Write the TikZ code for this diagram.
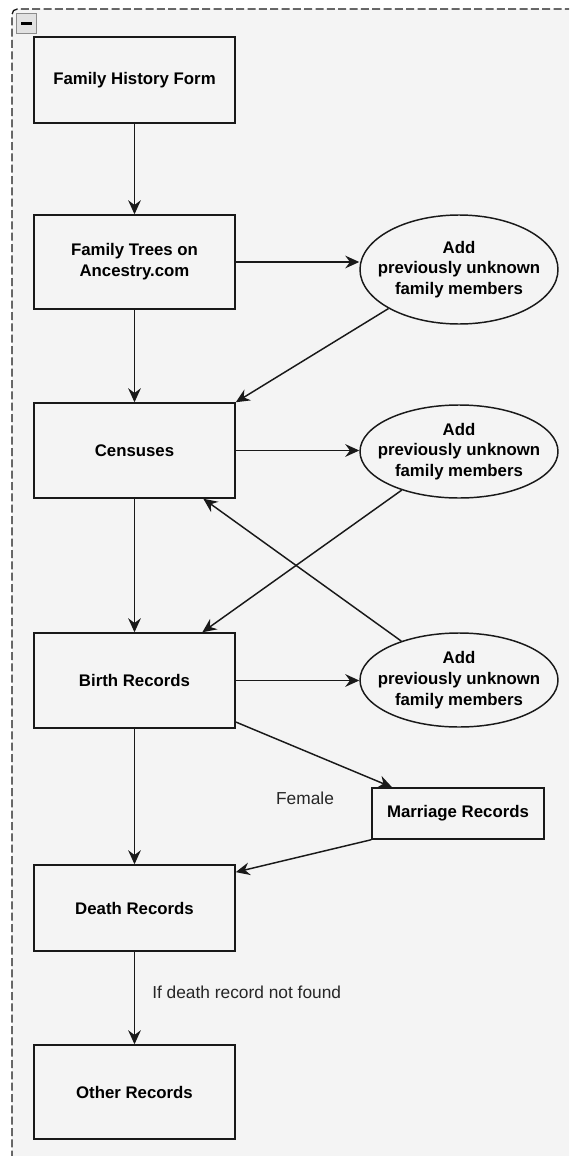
\documentclass[tikz,border=0pt]{standalone}
\usepackage{fontspec}
\setmainfont{Liberation Sans}
\usepackage{xcolor}
\usetikzlibrary{calc, shapes.geometric, arrows.meta}
\definecolor{panel}{HTML}{F4F4F4}
\definecolor{btn}{HTML}{E2E2E2}
\tikzset{every node/.append style={font=\fontsize{13}{15.5}\selectfont}}

\begin{document}
\begin{tikzpicture}[>={Stealth[length=10.5pt, width=9.5pt, inset=3.5pt]}, x=0.75pt, y=-0.75pt,
    box/.style={draw=black!90, line width=1.1pt, minimum width=150.75pt, align=center, font=\fontsize{12.6}{15.6}\selectfont\bfseries, inner sep=0pt},
    oval/.style={ellipse, draw=black!90, line width=1.1pt, minimum width=148.5pt, minimum height=70.5pt, inner xsep=-10pt, inner ysep=0pt, align=center, font=\fontsize{12.6}{15.6}\selectfont\bfseries},
    lab/.style={font=\fontsize{13}{15.5}\selectfont, text=black!85, inner sep=0pt},
    flow/.style={->, line width=1.1pt, draw=black!90}]
    \clip (0,0) rectangle (569,1156);
    % container
    \path[fill=panel, rounded corners=4pt] (12,1170) -- (12,9) -- (580,9) -- (580,1170) -- cycle;
    \draw[black!90, line width=1pt, dash pattern=on 6pt off 2.5pt, rounded corners=4pt] (12,1170) -- (12,9) -- (580,9);
    \node[draw=black!45, fill=btn, minimum width=15pt, minimum height=15pt, inner sep=0pt] (fold) at (26.7,23.7) {};
    \draw[line width=2.2pt] ([xshift=-4pt]fold.center) -- ([xshift=4pt]fold.center);
    % main column
    \node[box, minimum height=64.5pt] (form) at (134.5,80) {Family History Form};
    \node[box, minimum height=70.5pt] (trees) at (134.5,262) {Family Trees on\\Ancestry.com};
    \node[box, minimum height=71.25pt] (census) at (134.5,450.5) {Censuses};
    \node[box, minimum height=71.25pt] (birth) at (134.5,680.5) {Birth Records};
    \node[box, minimum height=64.5pt] (death) at (134.5,908) {Death Records};
    \node[box, minimum height=70.5pt] (other) at (134.5,1092) {Other Records};
    % side ovals
    \node[oval, minimum height=81.75pt] (add1) at (459,269.5) {Add\\previously unknown\\family members};
    \node[oval, minimum height=69.75pt] (add2) at (459,451.5) {Add\\previously unknown\\family members};
    \node[oval] (add3) at (459,680) {Add\\previously unknown\\family members};
    \node[box, minimum width=129pt, minimum height=38.25pt] (marr) at (458,813.5) {Marriage Records};
    % labels
    \node[lab] (female) at (305,798) {Female};
    \node[lab, anchor=west] (notfound) at (152,992) {If death record not found};
    % arrows down the column
    \foreach \a/\b in {form/trees, trees/census, census/birth, birth/death, death/other} \draw[flow] (\a) -- (\b);
    % out to the ovals
    \foreach \a/\b in {trees/add1, census/add2, birth/add3} \draw[flow] (\a.east) -- (\a.east -| \b.west);
    % back into the column
    \draw[flow] (add1.south west) -- (census.north east);
    \draw[flow] (add2.214) -- ($(birth.north west)!0.835!(birth.north east)$);
    \draw[flow] (add3.146) -- ($(census.south west)!0.84!(census.south east)$);
    % marriage branch
    \draw[flow] ($(birth.north east)!0.93!(birth.south east)$) -- ($(marr.north west)!0.12!(marr.north east)$);
    \draw[flow] (marr.south west) -- ($(death.north east)!0.09!(death.south east)$);
\end{tikzpicture}
\end{document}
